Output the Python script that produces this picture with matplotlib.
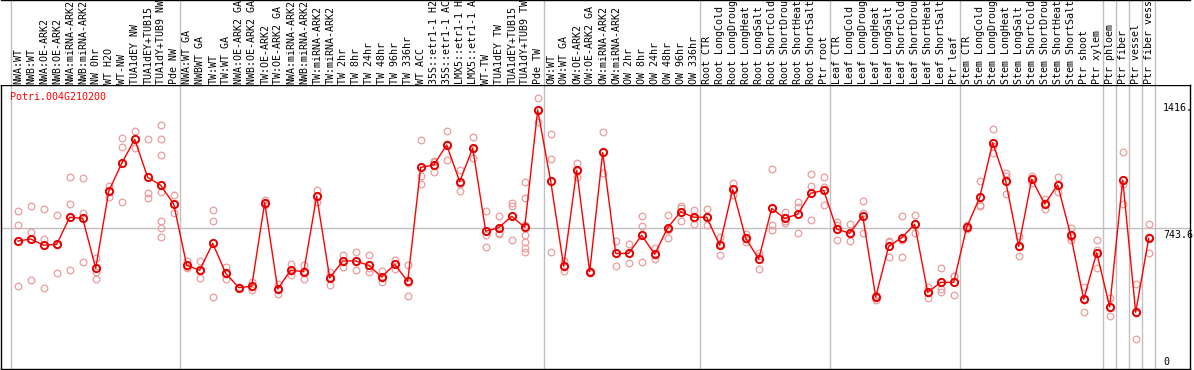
import numpy as np
import matplotlib.pyplot as plt
from matplotlib import transforms

gene = "Potri.004G210200"

labels = ["NWA:WT", "NWB:WT", "NWA:OE-ARK2", "NWB:OE-ARK2", "NWA:miRNA-ARK2",
          "NWB:miRNA-ARK2", "NW 0hr", "WT H2O", "WT-NW", "TUA1dEY NW",
          "TUA1dEY+TUB15", "TUA1dY+TUB9 NW", "Pde NW",
          "NWA:WT GA", "NWBWT GA", "TW:WT", "TW:WT GA", "NWA:OE-ARK2 GA",
          "NWB:OE-ARK2 GA", "TW:OE-ARK2", "TW:OE-ARK2 GA", "NWA:miRNA-ARK2",
          "NWB:miRNA-ARK2", "TW:miRNA-ARK2", "TW:miRNA-ARK2", "TW 2hr", "TW 8hr",
          "TW 24hr", "TW 48hr", "TW 96hr", "TW 336hr", "WT ACC",
          "35S::etr1-1 H2", "35S::etr1-1 AC", "LMX5::etr1-1 H", "LMX5::etr1-1 A",
          "WT-TW", "TUA1dEY TW", "TUA1dEY+TUB15", "TUA1dY+TUB9 TW", "Pde TW",
          "OW:WT", "OW:WT GA", "OW:OE-ARK2", "OW:OE-ARK2 GA", "OW:miRNA-ARK2",
          "OW:miRNA-ARK2", "OW 2hr", "OW 8hr", "OW 24hr", "OW 48hr", "OW 96hr",
          "OW 336hr",
          "Root CTR", "Root LongCold", "Root LongDroug", "Root LongHeat",
          "Root LongSalt", "Root ShortCold", "Root ShortDrou", "Root ShortHeat",
          "Root ShortSalt", "Ptr root",
          "Leaf CTR", "Leaf LongCold", "Leaf LongDroug", "Leaf LongHeat",
          "Leaf LongSalt", "Leaf ShortCold", "Leaf ShortDrou", "Leaf ShortHeat",
          "Leaf ShortSalt", "Ptr leaf",
          "Stem CTR", "Stem LongCold", "Stem LongDroug", "Stem LongHeat",
          "Stem LongSalt", "Stem ShortCold", "Stem ShortDrou", "Stem ShortHeat",
          "Stem ShortSalt", "Ptr shoot", "Ptr xylem",
          "Ptr phloem", "Ptr fiber", "Ptr vessel", "Ptr fiber vess"]

# number of samples in each block between the grey separators
group_sizes = [13, 28, 12, 10, 10, 11, 1, 1, 1, 1]

# mean expression per sample (red line)
means = [676, 687, 654, 659, 802, 796, 532, 939, 1087, 1214, 1013, 971, 872,
         548, 522, 664, 506, 430, 437, 879, 423, 522, 514, 914, 481, 571, 571,
         548, 486, 553, 463, 1066, 1078, 1184, 990, 1168, 728, 747, 807, 749,
         1369,
         992, 543, 1050, 514, 1145, 611, 611, 707, 606, 747, 831, 802,
         802, 654, 950, 691, 581, 849, 796, 818, 929, 944,
         740, 717, 809, 381, 648, 694, 765, 405, 458, 458,
         749, 907, 1196, 992, 648, 1003, 872, 973, 707, 368, 615,
         328, 999, 300, 691]

# individual replicates (pink circles)
reps = [[835, 761, 437], [862, 724, 472], [844, 687, 430], [814, 506, 657],
        [1013, 872, 523], [1010, 823, 566], [585, 514, 474], [967, 911, 939],
        [1219, 1172, 883], [1258, 1170, 1214], [1214, 929, 902],
        [1288, 1214, 1129, 937, 782, 747, 699], [920, 823, 872],
        [571, 532, 541], [571, 479, 516], [839, 781, 381], [541, 474, 503],
        [435, 428, 427], [458, 418, 435], [893, 876, 869], [449, 396, 423],
        [553, 497, 516], [550, 474, 518], [946, 881, 915], [514, 442, 487],
        [603, 541, 569], [618, 522, 573], [601, 511, 532], [518, 458, 482],
        [576, 529, 554], [548, 386, 455], [1209, 1022, 979], [1099, 1043, 1092],
        [1258, 1103, 1191], [1052, 942, 976], [1226, 1114, 1164],
        [833, 643, 708], [809, 712, 720], [876, 682, 863],
        [990, 902, 761, 708, 673, 641, 620], [1431, 1307, 1369],
        [1240, 1110, 617], [571, 518, 540], [1089, 1016, 1045], [520, 510, 512],
        [1253, 1034, 1148], [677, 543, 613], [661, 558, 614], [809, 756, 566],
        [638, 580, 600], [814, 694, 733], [862, 781, 851], [839, 768, 799],
        [844, 760, 802], [699, 601, 662], [983, 920, 947], [712, 673, 688],
        [615, 529, 599], [1055, 760, 733], [831, 773, 784], [884, 855, 719],
        [1031, 967, 786], [1013, 962, 865],
        [777, 682, 761], [765, 675, 711], [886, 717, 823], [391, 365, 387],
        [678, 594, 672], [809, 590, 683], [812, 717, 766], [435, 377, 403],
        [534, 423, 409], [492, 389, 493],
        [761, 740, 746], [992, 867, 862], [1267, 1140, 1181], [1034, 923, 1019],
        [703, 596, 645], [1022, 981, 1006], [897, 844, 875], [1015, 934, 970],
        [744, 680, 697], [435, 303, 366], [680, 627, 534],
        [374, 280, 330], [1145, 979, 870], [449, 157, 294], [765, 611, 697]]

mid_value = 743.6
axis_values = [1416.0, 743.6, 0]
axis_text = ["1416.", "743.6", "0"]

mono = "DejaVu Sans Mono"
fs = 7.2
grey = "#c0c0c0"
W, H = 1194, 370

fig = plt.figure(figsize=(W / 100, H / 100), dpi=100)

# plot box: x 1..1190 px, y 85..369 px
ax = fig.add_axes([1 / W, 1 / H, 1189 / W, 284 / H])
# header strip with the sample names
hx = fig.add_axes([1 / W, 285 / H, 1189 / W, 85 / H])

x = np.arange(len(means))
xlim = ((1 - 17.7) / 13, (1190 - 17.7) / 13)

for a in (ax, hx):
    a.set_xlim(*xlim)
    a.set_xticks([])
    a.set_yticks([])

ax.set_ylim(0, 1501)
hx.set_ylim(0, 85)

for s in ax.spines.values():
    s.set_linewidth(1.0)
for k in ("left", "right", "bottom"):
    hx.spines[k].set_visible(False)
hx.spines["top"].set_linewidth(1.0)

# separators between sample groups
bounds = np.concatenate([[0], np.cumsum(group_sizes)]) - 0.5
for b in bounds:
    ax.axvline(b, color=grey, lw=1, zorder=0)
    hx.axvline(b, color=grey, lw=1, zorder=0)
ax.axhline(mid_value, color=grey, lw=1, zorder=0)

for i, lab in enumerate(labels):
    hx.text(x[i] + 0.05, 1.5, lab, rotation=90, ha="center", va="bottom",
            family=mono, fontsize=fs, color="black")

# replicates
rx = np.concatenate([[i] * len(r) for i, r in enumerate(reps)])
ry = np.concatenate(reps)
ax.plot(rx, ry, "o", ls="none", mfc="none", mec="#eb9d9d", ms=4.8,
        mew=0.9, zorder=2)

# means
ax.plot(x, means, "-", color="#ff0000", lw=1.0, zorder=3)
ax.plot(x, means, "o", ls="none", mfc="none", mec="#e60000", ms=5.2,
        mew=1.4, zorder=4)

ax.text(0.0072, 0.958, gene, transform=ax.transAxes, color="#ff0000",
        family=mono, fontsize=fs, ha="left", va="center")

tr = transforms.blended_transform_factory(ax.transAxes, ax.transData)
for v, t in zip(axis_values, axis_text):
    ax.text(0.9775, v + (10 if v == 0 else -8), t, transform=tr,
            family=mono, fontsize=fs, ha="left",
            va="bottom" if v == 0 else "top")

fig.savefig("out.png", dpi=100)
